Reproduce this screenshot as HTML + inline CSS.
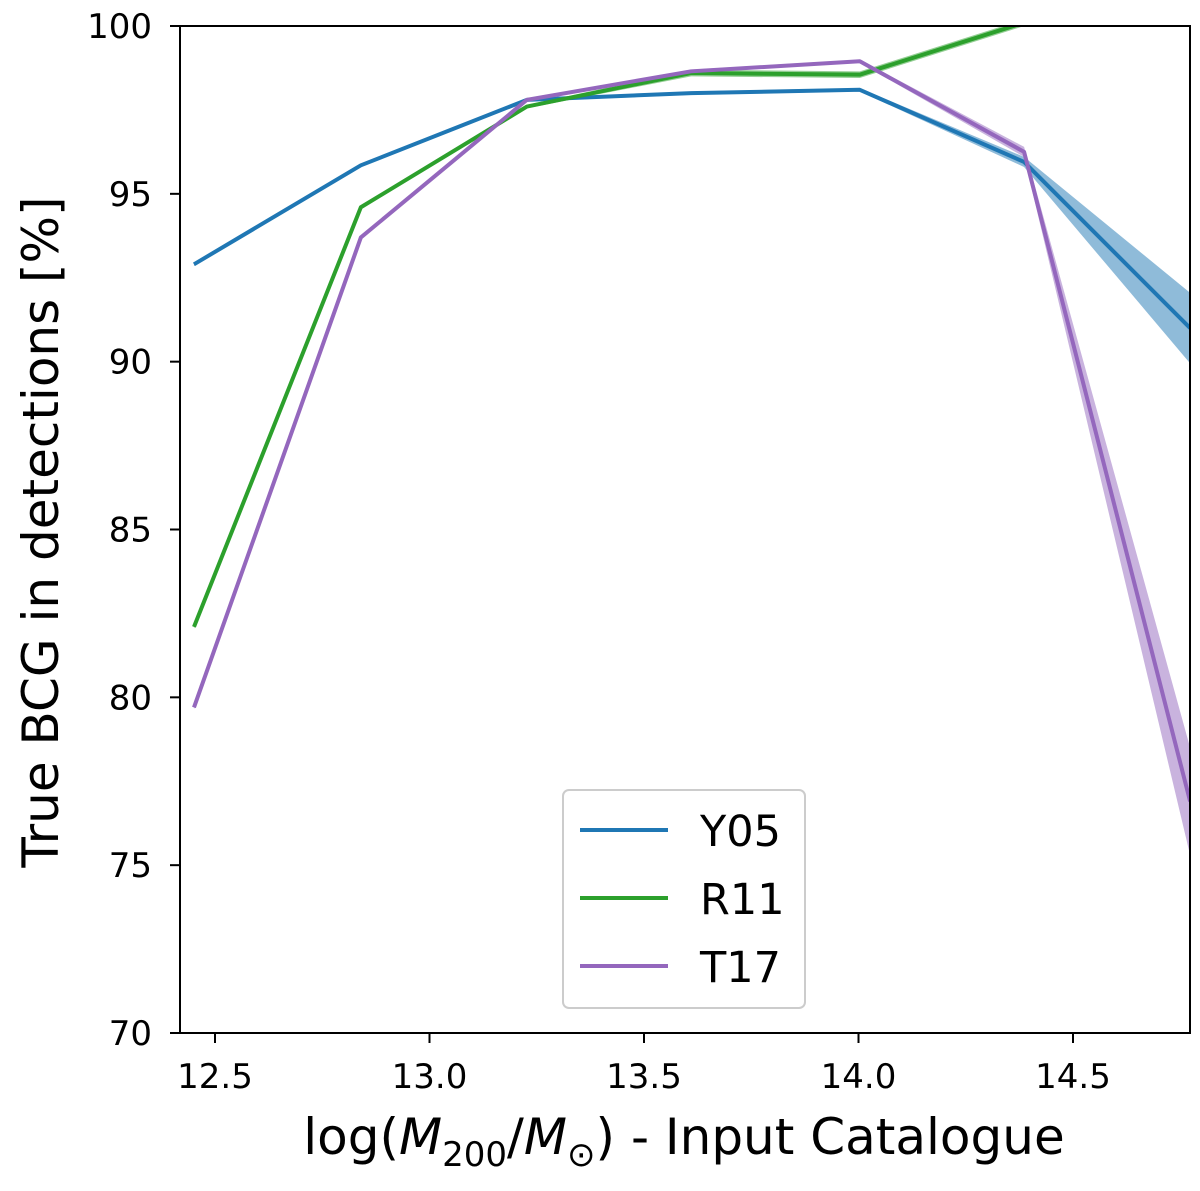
<!DOCTYPE html>
<html><head><meta charset="utf-8"><style>
body{margin:0;background:#fff}
svg text{font-family:"DejaVu Sans","Liberation Sans",sans-serif;fill:#000}
</style></head><body>
<svg id="chart" width="1200" height="1186">
<defs><clipPath id="clip"><rect x="180" y="26" width="1010" height="1007"/></clipPath></defs>
<g id="grid"></g>
<g id="series" clip-path="url(#clip)"></g>
<rect x="180" y="26" width="1010" height="1007" fill="none" stroke="#000" stroke-width="2"/>
<g id="axes"></g>
<text x="684" y="1154" font-size="50" text-anchor="middle">log(<tspan font-style="italic">M</tspan><tspan font-size="34" dy="12">200</tspan><tspan dy="-12">/</tspan><tspan font-style="italic">M</tspan><tspan font-size="34" dy="12">⊙</tspan><tspan dy="-12">) - Input Catalogue</tspan></text>
<text transform="translate(58,532) rotate(-90)" font-size="50" text-anchor="middle">True BCG in detections [%]</text>
<g>
<rect x="563" y="790" width="242" height="218" rx="6" fill="#fff" fill-opacity="0.85" stroke="#ccc" stroke-width="2"/>
<line x1="580" y1="830" x2="668" y2="830" stroke="#1f77b4" stroke-width="4"/>
<text x="700" y="846" font-size="43">Y05</text>
<line x1="580" y1="898" x2="668" y2="898" stroke="#2ca02c" stroke-width="4"/>
<text x="700" y="914" font-size="43">R11</text>
<line x1="580" y1="966" x2="668" y2="966" stroke="#9467bd" stroke-width="4"/>
<text x="700" y="982" font-size="43">T17</text>
</g>
</svg>
<script>
const xs = [12.451, 12.840, 13.227, 13.610, 14.003, 14.386, 14.773];
const y05 = [92.9, 95.85, 97.8, 98.0, 98.1, 95.95, 91.0];
const y05Err = [0.05, 0.05, 0.05, 0.05, 0.05, 0.15, 1.05];
const r11 = [82.1, 94.6, 97.6, 98.6, 98.55, 100.1, 101.6];
const r11Err = [0.05, 0.05, 0.05, 0.1, 0.1, 0.1, 0.1];
const t17 = [79.7, 93.7, 97.8, 98.65, 98.95, 96.25, 76.9];
const t17Err = [0.05, 0.05, 0.05, 0.05, 0.05, 0.15, 1.6];
const xTicks = [12.5, 13.0, 13.5, 14.0, 14.5];
const xTickLabels = ["12.5", "13.0", "13.5", "14.0", "14.5"];
const yTicks = [70, 75, 80, 85, 90, 95, 100];
const yTickLabels = ["70", "75", "80", "85", "90", "95", "100"];

const NS = "http://www.w3.org/2000/svg";
function X(v){ return 215 + (v - 12.5) * 429; }
function Y(v){ return 1033 - (v - 70) * (1007 / 30); }
function mk(tag, attrs, parent){ const e = document.createElementNS(NS, tag); for (const k in attrs) e.setAttribute(k, attrs[k]); parent.appendChild(e); return e; }

const axes = document.getElementById('axes');
xTicks.forEach((t, i) => {
  const l = mk('line', {x1: X(t), x2: X(t), y1: 1033, y2: 1043, stroke: '#000', 'stroke-width': 2}, axes);
  
  
  const tx = mk('text', {x: X(t), y: 1088, 'font-size': 34, 'text-anchor': 'middle'}, axes);
  tx.textContent = xTickLabels[i];
  
  
});
yTicks.forEach((t, i) => {
  const l = mk('line', {x1: 170, x2: 180, y1: Y(t), y2: Y(t), stroke: '#000', 'stroke-width': 2}, axes);
  
  
  const tx = mk('text', {x: 152, y: Y(t) + 12, 'font-size': 34, 'text-anchor': 'end'}, axes);
  tx.textContent = yTickLabels[i];
  
  
});

const g = document.getElementById('series');
function draw(vals, errs, color, name){
  let up = xs.map((x, i) => X(x) + ',' + Y(vals[i] + errs[i]));
  let dn = xs.map((x, i) => X(x) + ',' + Y(vals[i] - errs[i])).reverse();
  const band = mk('polygon', {points: up.concat(dn).join(' '), fill: color, 'fill-opacity': 0.5, stroke: 'none'}, g);
  
  
  const line = mk('polyline', {points: xs.map((x, i) => X(x) + ',' + Y(vals[i])).join(' '), fill: 'none', stroke: color, 'stroke-width': 4, 'stroke-linejoin': 'round'}, g);
  
  
}
draw(y05, y05Err, '#1f77b4', 'y05');
draw(r11, r11Err, '#2ca02c', 'r11');
draw(t17, t17Err, '#9467bd', 't17');
</script>
</body></html>
